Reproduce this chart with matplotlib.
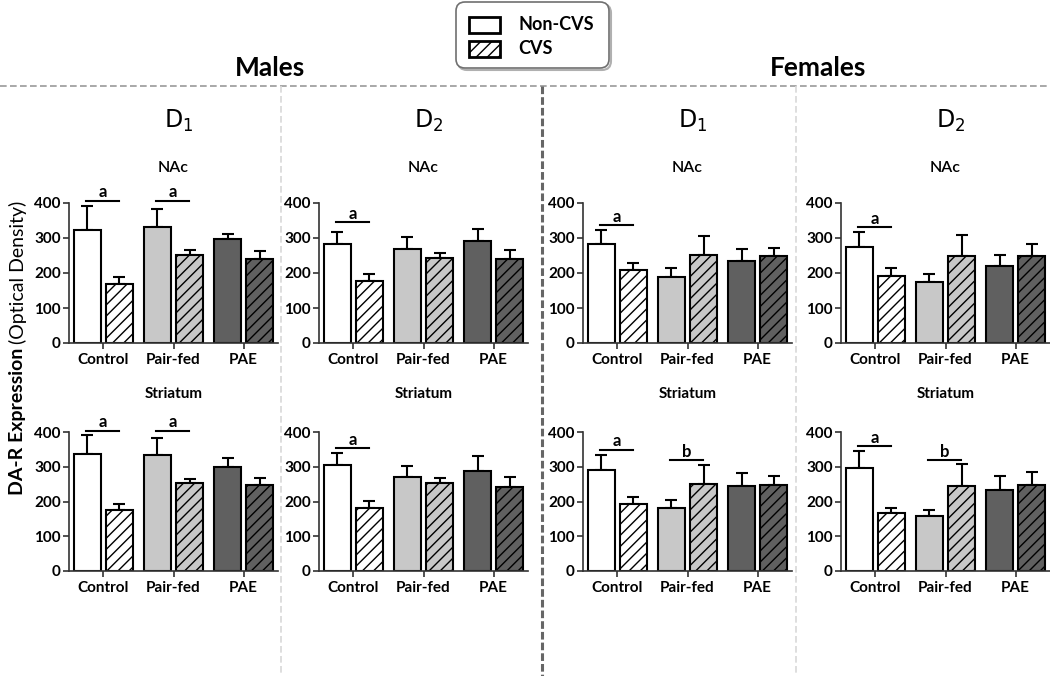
import numpy as np
import matplotlib.pyplot as plt
from matplotlib.patches import FancyBboxPatch, Rectangle

plt.rcParams['font.family'] = ['Lato', 'DejaVu Sans']
plt.rcParams['hatch.linewidth'] = 1.0

groups = ["Control", "Pair-fed", "PAE"]
group_colors = ["#ffffff", "#c8c8c8", "#606060"]

# values: [Control, Pair-fed, PAE]
# Males D1
m_d1_nac_non = [324, 331, 297]
m_d1_nac_non_err = [68, 52, 15]
m_d1_nac_cvs = [169, 250, 241]
m_d1_nac_cvs_err = [19, 17, 21]
m_d1_str_non = [336, 333, 300]
m_d1_str_non_err = [55, 51, 25]
m_d1_str_cvs = [176, 253, 248]
m_d1_str_cvs_err = [17, 13, 21]
# Males D2
m_d2_nac_non = [282, 269, 291]
m_d2_nac_non_err = [35, 34, 34]
m_d2_nac_cvs = [178, 242, 239]
m_d2_nac_cvs_err = [18, 16, 26]
m_d2_str_non = [305, 271, 288]
m_d2_str_non_err = [36, 32, 42]
m_d2_str_cvs = [182, 252, 242]
m_d2_str_cvs_err = [20, 17, 29]
# Females D1
f_d1_nac_non = [282, 189, 234]
f_d1_nac_non_err = [40, 25, 34]
f_d1_nac_cvs = [208, 250, 248]
f_d1_nac_cvs_err = [21, 55, 23]
f_d1_str_non = [290, 181, 245]
f_d1_str_non_err = [43, 24, 36]
f_d1_str_cvs = [194, 250, 248]
f_d1_str_cvs_err = [18, 56, 26]
# Females D2
f_d2_nac_non = [274, 174, 219]
f_d2_nac_non_err = [43, 23, 33]
f_d2_nac_cvs = [192, 248, 248]
f_d2_nac_cvs_err = [22, 61, 36]
f_d2_str_non = [295, 157, 233]
f_d2_str_non_err = [51, 19, 40]
f_d2_str_cvs = [166, 245, 247]
f_d2_str_cvs_err = [16, 64, 39]

# significance bars: (group index, height, letter)
m_d1_nac_sig = [(0, 407, "a"), (1, 407, "a")]
m_d1_str_sig = [(0, 404, "a"), (1, 404, "a")]
m_d2_nac_sig = [(0, 346, "a")]
m_d2_str_sig = [(0, 354, "a")]
f_d1_nac_sig = [(0, 337, "a")]
f_d1_str_sig = [(0, 349, "a"), (1, 318, "b")]
f_d2_nac_sig = [(0, 331, "a")]
f_d2_str_sig = [(0, 360, "a"), (1, 319, "b")]

W, H = 1050, 676
fig = plt.figure(figsize=(10.5, 6.76), dpi=100)

# full-figure overlay in pixel coords for the decorations
bg = fig.add_axes([0, 0, 1, 1], zorder=-1)
bg.set_xlim(0, W)
bg.set_ylim(H, 0)
bg.axis("off")


def px_axes(left, top, right, bottom):
    return fig.add_axes([left / W, 1 - bottom / H, (right - left) / W, (bottom - top) / H])


off, width = 0.229, 0.386


def draw_panel(ax, non, non_err, cvs, cvs_err, sig):
    x = np.arange(len(groups))
    ax.bar(x - off, non, width, color=group_colors, edgecolor="black", linewidth=1.5, zorder=2)
    ax.bar(x + off, cvs, width, color=group_colors, edgecolor="black", linewidth=1.5,
           hatch="///", zorder=2)
    ax.errorbar(x - off, non, yerr=[np.zeros(3), non_err], fmt="none", ecolor="black",
                elinewidth=1.5, capsize=4.5, capthick=1.5, zorder=1)
    ax.errorbar(x + off, cvs, yerr=[np.zeros(3), cvs_err], fmt="none", ecolor="black",
                elinewidth=1.5, capsize=4.5, capthick=1.5, zorder=1)
    for g, y, letter in sig:
        ax.plot([g - 0.25, g + 0.22], [y, y], color="black", lw=1.5, clip_on=False)
        ax.text(g - 0.015, y + 1, letter, ha="center", va="bottom", fontsize=12,
                fontweight="bold", clip_on=False)
    ax.set_xlim(-0.49, 2.49)
    ax.set_ylim(0, 400)
    ax.set_yticks([0, 100, 200, 300, 400])
    ax.set_xticks(x)
    ax.set_xticklabels(groups)
    ax.set_facecolor("none")
    for s in ["top", "right"]:
        ax.spines[s].set_visible(False)
    for s in ["left", "bottom"]:
        ax.spines[s].set_linewidth(1.2)
        ax.spines[s].set_color("#333333")
    ax.tick_params(axis="y", length=4, width=1.2, color="#333333", labelsize=11, pad=2)
    ax.tick_params(axis="x", length=4, width=1.2, color="#333333", labelsize=11, pad=3)
    for lbl in ax.get_xticklabels() + ax.get_yticklabels():
        lbl.set_fontweight("bold")


lefts = [69, 319, 583, 841]
pw = 209
rows = [(203, 343), (432, 571)]

panels = [
    (0, 0, m_d1_nac_non, m_d1_nac_non_err, m_d1_nac_cvs, m_d1_nac_cvs_err, m_d1_nac_sig),
    (0, 1, m_d1_str_non, m_d1_str_non_err, m_d1_str_cvs, m_d1_str_cvs_err, m_d1_str_sig),
    (1, 0, m_d2_nac_non, m_d2_nac_non_err, m_d2_nac_cvs, m_d2_nac_cvs_err, m_d2_nac_sig),
    (1, 1, m_d2_str_non, m_d2_str_non_err, m_d2_str_cvs, m_d2_str_cvs_err, m_d2_str_sig),
    (2, 0, f_d1_nac_non, f_d1_nac_non_err, f_d1_nac_cvs, f_d1_nac_cvs_err, f_d1_nac_sig),
    (2, 1, f_d1_str_non, f_d1_str_non_err, f_d1_str_cvs, f_d1_str_cvs_err, f_d1_str_sig),
    (3, 0, f_d2_nac_non, f_d2_nac_non_err, f_d2_nac_cvs, f_d2_nac_cvs_err, f_d2_nac_sig),
    (3, 1, f_d2_str_non, f_d2_str_non_err, f_d2_str_cvs, f_d2_str_cvs_err, f_d2_str_sig),
]

for col, row, non, non_err, cvs, cvs_err, sig in panels:
    top, bottom = rows[row]
    ax = px_axes(lefts[col], top, lefts[col] + pw, bottom)
    draw_panel(ax, non, non_err, cvs, cvs_err, sig)

# column / row headings
receptors = ["D$_1$", "D$_2$", "D$_1$", "D$_2$"]
for col in range(4):
    cx = lefts[col] + pw / 2
    bg.text(cx + 5, 121, receptors[col], ha="center", va="center", fontsize=17,
            family="DejaVu Sans")
    bg.text(cx, 168, "NAc", ha="center", va="center", fontsize=11.5, fontweight="semibold")
    bg.text(cx, 394, "Striatum", ha="center", va="center", fontsize=11, fontweight="bold")

bg.text(270, 68, "Males", ha="center", va="center", fontsize=19, fontweight="bold")
bg.text(818, 68, "Females", ha="center", va="center", fontsize=19, fontweight="bold")

# dividers
bg.plot([0, W], [86, 86], color="#9a9a9a", lw=1.2, ls=(0, (4, 2)))
bg.plot([281, 281], [86, H], color="#d8d8d8", lw=1.2, ls=(0, (4, 2)))
bg.plot([796, 796], [86, H], color="#d8d8d8", lw=1.2, ls=(0, (4, 2)))
bg.plot([542, 542], [86, H], color="#666666", lw=2.2, ls=(0, (2.5, 1)))

# y label
bg.text(18, 348, "DA-R Expression", rotation=90, ha="center", va="top",
        fontsize=14, fontweight="bold")
bg.text(18, 344, "(Optical Density)", rotation=90, ha="center", va="bottom", fontsize=14)

# legend box
bg.add_patch(FancyBboxPatch((458, 4), 153, 66, boxstyle="round,pad=0,rounding_size=9",
                            facecolor="#f2f2f2", edgecolor="#b0b0b0", lw=1.5, zorder=1))
bg.add_patch(FancyBboxPatch((456, 2), 153, 66, boxstyle="round,pad=0,rounding_size=9",
                            facecolor="white", edgecolor="#707070", lw=1.2, zorder=2))
bg.add_patch(Rectangle((469, 17), 31, 16, facecolor="white", edgecolor="black", lw=2, zorder=3))
bg.add_patch(Rectangle((469, 41), 31, 16, facecolor="white", edgecolor="black", lw=2,
                       hatch="///", zorder=3))
bg.text(518, 24, "Non-CVS", ha="left", va="center", fontsize=13, fontweight="bold", zorder=4)
bg.text(518, 49, "CVS", ha="left", va="center", fontsize=13, fontweight="bold", zorder=4)

fig.savefig("out.png", dpi=100)
